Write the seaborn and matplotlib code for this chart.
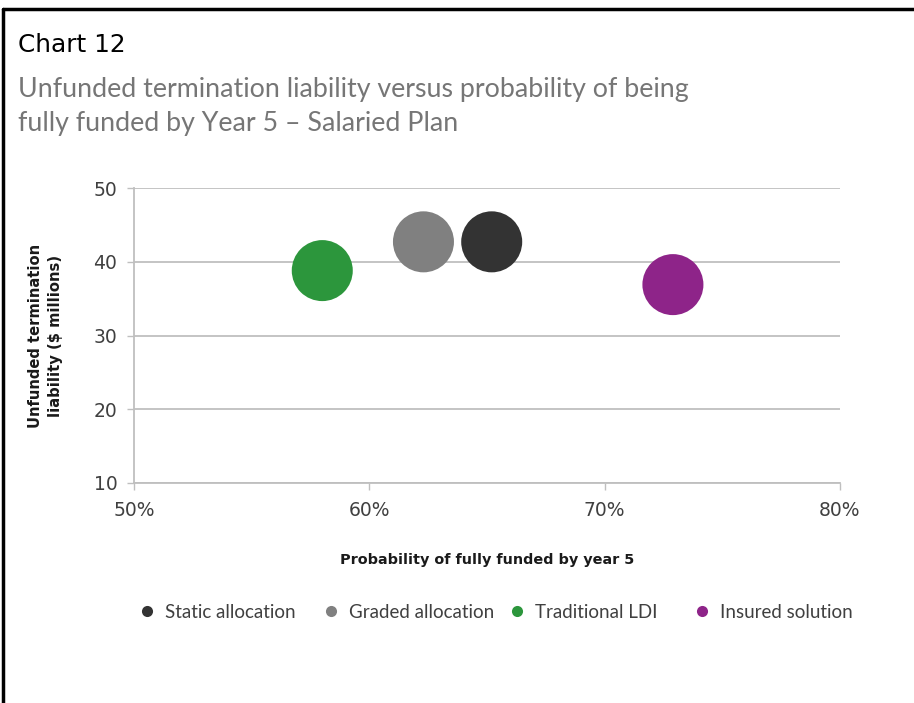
import matplotlib
matplotlib.use("Agg")
import matplotlib.pyplot as plt
from matplotlib.lines import Line2D
from matplotlib.ticker import FuncFormatter
import seaborn as sns
import pandas as pd

# Strategy results: probability of full funding (%) vs unfunded liability ($M)
strategies = ["Static allocation", "Graded allocation", "Traditional LDI", "Insured solution"]
prob_funded = [65.2, 62.3, 58.0, 72.9]
unfunded_liability = [42.7, 42.7, 38.8, 36.9]
colors = ["#333333", "#808080", "#2c963c", "#8e2489"]

x_ticks = [50, 60, 70, 80]
y_ticks = [10, 20, 30, 40, 50]

df = pd.DataFrame({"strategy": strategies, "prob": prob_funded, "liability": unfunded_liability})

sns.set_theme(style="white")
plt.rcParams["font.family"] = ["DejaVu Sans"]

W, H = 914, 703
fig = plt.figure(figsize=(W / 100, H / 100), dpi=100)
ax = fig.add_axes([134 / W, 1 - 483 / H, (840 - 134) / W, (483 - 188) / H])

sns.scatterplot(data=df, x="prob", y="liability", hue="strategy",
                palette=dict(zip(strategies, colors)), s=1930,
                edgecolor="none", legend=False, ax=ax, zorder=3)

ax.set_xlim(50, 80)
ax.set_ylim(10, 50)
ax.set_xticks(x_ticks)
ax.set_yticks(y_ticks)
ax.xaxis.set_major_formatter(FuncFormatter(lambda v, p: f"{v:.0f}%"))

grid_c = "#bfbfbf"
ax.yaxis.grid(True, color=grid_c, linewidth=1.3)
ax.xaxis.grid(False)
ax.set_axisbelow(True)
for side in ["top", "right"]:
    ax.spines[side].set_visible(False)
for side in ["left", "bottom"]:
    ax.spines[side].set_color(grid_c)
    ax.spines[side].set_linewidth(1.3)
ax.tick_params(axis="both", which="major", length=5, width=1, color=grid_c,
               labelsize=13.5, labelcolor="#404040", left=True, bottom=True)
ax.tick_params(axis="y", pad=7)
ax.tick_params(axis="x", pad=8)

ax.set_xlabel("Probability of fully funded by year 5", fontsize=10.4,
              fontweight="bold", color="#1a1a1a", labelpad=24)
ax.set_ylabel("Unfunded termination\nliability ($ millions)", fontsize=10.6,
              fontweight="bold", color="#1a1a1a", labelpad=22, linespacing=1.45)

# Legend entries along the bottom, one per strategy
fs_leg = 13.5
dot_x = [147, 331, 517, 702]
half_handle = 0.6 * fs_leg * 100 / 72 / 2
for name, c, dx in zip(strategies, colors, dot_x):
    h = Line2D([0], [0], marker="o", linestyle="none", markersize=8,
               markerfacecolor=c, markeredgecolor="none")
    leg = fig.legend([h], [name], loc="center left",
                     bbox_to_anchor=((dx - half_handle) / W, 1 - 612 / H),
                     frameon=False, handlelength=0.6, handletextpad=0.66,
                     borderpad=0, borderaxespad=0,
                     prop={"family": "Lato", "size": fs_leg}, labelcolor="#404040")

# Titles
fig.text(18 / W, 1 - 45 / H, "Chart 12", fontsize=17.8, color="black",
         va="center", ha="left")
fig.text(18 / W, 1 - 89 / H, "Unfunded termination liability versus probability of being",
         fontsize=19.3, color="#767676", va="center", ha="left", family="Lato")
fig.text(18 / W, 1 - 124 / H, "fully funded by Year 5 \u2013 Salaried Plan",
         fontsize=19.3, color="#767676", va="center", ha="left", family="Lato")

# Frame lines on the top and left edges
fig.add_artist(Line2D([3 / W, 3 / W], [0, 1 - 9 / H], color="black",
                      linewidth=2.5, transform=fig.transFigure))
fig.add_artist(Line2D([3 / W, 1], [1 - 9 / H, 1 - 9 / H], color="black",
                      linewidth=2.5, transform=fig.transFigure))

fig.savefig("out.png", dpi=100, facecolor="white")
